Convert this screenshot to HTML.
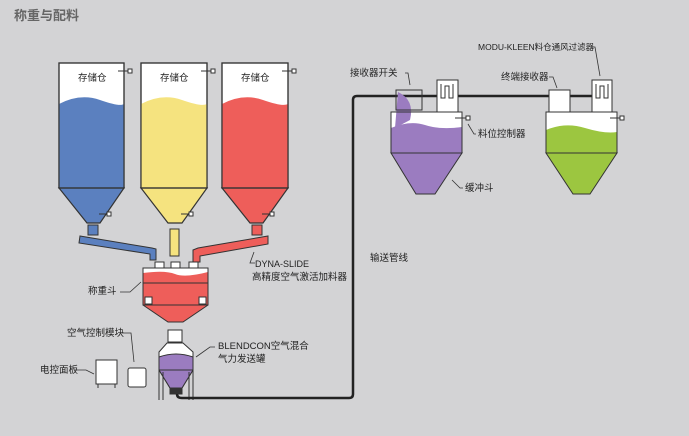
<!DOCTYPE html>
<html><head><meta charset="utf-8"><style>
html,body{margin:0;padding:0;background:#d3d3d5;}
svg{display:block;}
text{font-family:"Liberation Sans","Noto Sans CJK SC",sans-serif;font-size:9.5px;fill:#222;}
</style></head><body>
<svg width="689" height="436" viewBox="0 0 689 436" xmlns="http://www.w3.org/2000/svg">
<rect width="689" height="436" fill="#d3d3d5"/>
<text x="14" y="20" style="font-size:13px;font-weight:bold;fill:#666">称重与配料</text>

<!-- silos -->
<g stroke="#333" stroke-width="1.2">
 <rect x="59" y="63" width="65" height="125" fill="#fff"/>
 <path d="M59,104 Q80,93 100,100 T124,104 V188 H59 Z" fill="#5b80bf" stroke="none"/>
 <path d="M59,188 H124 L100,223 H87 Z" fill="#5b80bf"/>
 <rect x="59" y="63" width="65" height="125" fill="none"/>
 <rect x="141" y="63" width="66" height="125" fill="#fff"/>
 <path d="M141,104 Q162,93 182,100 T207,104 V188 H141 Z" fill="#f5e37f" stroke="none"/>
 <path d="M141,188 H207 L182,223 H168 Z" fill="#f5e37f"/>
 <rect x="141" y="63" width="66" height="125" fill="none"/>
 <rect x="222" y="63" width="66" height="125" fill="#fff"/>
 <path d="M222,104 Q243,93 263,100 T288,104 V188 H222 Z" fill="#ee5e5a" stroke="none"/>
 <path d="M222,188 H288 L263,223 H250 Z" fill="#ee5e5a"/>
 <rect x="222" y="63" width="66" height="125" fill="none"/>
</g>
<g stroke="#333" stroke-width="1" fill="#fff">
 <line x1="118" y1="71" x2="128" y2="71"/><rect x="128" y="69" width="4" height="4"/>
 <line x1="201" y1="71" x2="211" y2="71"/><rect x="211" y="69" width="4" height="4"/>
 <line x1="282" y1="71" x2="292" y2="71"/><rect x="292" y="69" width="4" height="4"/>
 <line x1="99" y1="214" x2="107" y2="214"/><rect x="107" y="212" width="4" height="4"/>
 <line x1="181" y1="214" x2="189" y2="214"/><rect x="189" y="212" width="4" height="4"/>
 <line x1="262" y1="214" x2="270" y2="214"/><rect x="270" y="212" width="4" height="4"/>
</g>
<text x="78" y="81">存储仓</text><text x="160" y="81">存储仓</text><text x="241" y="81">存储仓</text>

<!-- conveyors -->
<g stroke="#333" stroke-width="1">
 <rect x="88" y="225" width="10" height="10" fill="#5b80bf"/>
 <path d="M80,236 L152,248 L156,249 V260 H150 V254 L79,243 Z" fill="#5b80bf"/>
 <rect x="170" y="229" width="9" height="27" fill="#f5e37f"/>
 <rect x="252" y="225" width="10" height="10" fill="#ee5e5a"/>
 <path d="M268,236 L268,244 L200,256 V262 H193 V250 L198,248 Z" fill="#ee5e5a"/>
 <!-- weigh hopper -->
 <rect x="143" y="268" width="65" height="13" fill="#fff"/>
 <path d="M143,273 Q165,270 175,274 T208,272 V283 H143 Z" fill="#ee5e5a" stroke="none"/>
 <rect x="143" y="268" width="65" height="37" fill="none"/>
 <path d="M143,283 H208 V305 H208 L183,322 H168 L143,305 Z" fill="#ee5e5a"/>
 <rect x="143" y="283" width="65" height="22" fill="none"/>
 <rect x="145" y="297" width="7" height="7" fill="#fff"/>
 <rect x="199" y="297" width="7" height="7" fill="#fff"/>
 <rect x="155" y="262" width="9" height="6" fill="#fff"/><rect x="171" y="262" width="9" height="6" fill="#fff"/><rect x="189" y="262" width="9" height="6" fill="#fff"/>
 <!-- blender -->
 <rect x="168" y="330" width="14" height="12" fill="#fff"/>
 <path d="M167,343 H183 L193,352 V370 L182,388 H170 L159,370 V352 Z" fill="#fff"/>
 <path d="M159,357 Q176,351 193,357 V370 L182,388 H170 L159,370 Z" fill="#9b7cc0"/>
 <line x1="159" y1="370" x2="193" y2="370"/>
 <line x1="159" y1="370" x2="159" y2="400"/><line x1="193" y1="370" x2="193" y2="400"/>
 <line x1="163" y1="372" x2="163" y2="400"/><line x1="189" y1="372" x2="189" y2="400"/>
 <rect x="170" y="388" width="12" height="6" fill="#333"/>
 <!-- panels -->
 <rect x="96" y="360" width="21" height="24" fill="#fff"/>
 <line x1="98" y1="384" x2="98" y2="388"/><line x1="115" y1="384" x2="115" y2="388"/>
 <rect x="128" y="368" width="18" height="19" rx="2" fill="#fff"/>
</g>
<!-- pipe -->
<path d="M177,394 Q177,398 182,398 H349 Q353,398 353,394 V100 Q353,96 357,96 H600" fill="none" stroke="#222" stroke-width="2.5"/>

<!-- receivers -->
<g stroke="#333" stroke-width="1">
 <rect x="391" y="112" width="71" height="41" fill="#fff"/>
 <path d="M391,128 Q410,120 425,125 T462,127 V153 H391 Z" fill="#9b7cc0" stroke="none"/>
 <path d="M398,92 Q415,100 410,120 L395,128 Z" fill="#9b7cc0" stroke="none"/>
 <path d="M391,153 H462 L435,194 H416 Z" fill="#9b7cc0"/>
 <rect x="391" y="112" width="71" height="41" fill="none"/>
 <rect x="396" y="90" width="26" height="20" fill="none"/>
 <rect x="437" y="80" width="21" height="32" fill="#fff"/>
 <path d="M441,84 V98 H445 V86 H449 V98 H453 V84" fill="none"/>
 <rect x="546" y="112" width="71" height="41" fill="#fff"/>
 <path d="M546,130 Q565,122 585,128 T617,132 V153 H546 Z" fill="#9cc640" stroke="none"/>
 <path d="M546,153 H617 L590,194 H573 Z" fill="#9cc640"/>
 <rect x="546" y="112" width="71" height="41" fill="none"/>
 <rect x="549" y="90" width="21" height="22" fill="#fff"/>
 <rect x="592" y="80" width="20" height="32" fill="#fff"/>
 <path d="M596,84 V98 H600 V86 H604 V98 H608 V84" fill="none"/>
 <line x1="455" y1="118" x2="466" y2="118"/><rect x="466" y="116" width="4" height="4" fill="#fff"/>
 <line x1="610" y1="118" x2="620" y2="118"/><rect x="620" y="116" width="4" height="4" fill="#fff"/>
</g>
<!-- leader lines -->
<g stroke="#333" stroke-width="0.8" fill="none">
 <path d="M405,73 H408 L410,85"/><path d="M590,47 H595 L600,76"/><path d="M549,77 H553 L557,88"/>
 <path d="M476,134 H474 L468,124"/><path d="M463,188 H460 L452,180"/>
 <path d="M255,263 H250 L254,252"/><path d="M120,292 H130 L141,282"/>
 <path d="M122,333 H131 L134,362"/><path d="M215,347 H210 L196,357"/><path d="M75,370 H86 L94,374"/>
</g>
<text x="350" y="76">接收器开关</text>
<text x="478" y="50" style="font-size:8.5px">MODU-KLEEN料仓通风过滤器</text>
<text x="501" y="80">终端接收器</text>
<text x="478" y="137">料位控制器</text>
<text x="465" y="191">缓冲斗</text>
<text x="370" y="261">输送管线</text>
<text x="255" y="267" style="font-size:9px">DYNA-SLIDE</text>
<text x="252" y="280">高精度空气激活加料器</text>
<text x="88" y="294">称重斗</text>
<text x="67" y="336">空气控制模块</text>
<text x="218" y="349">BLENDCON空气混合</text>
<text x="218" y="362">气力发送罐</text>
<text x="40" y="373">电控面板</text>
</svg>
</body></html>
